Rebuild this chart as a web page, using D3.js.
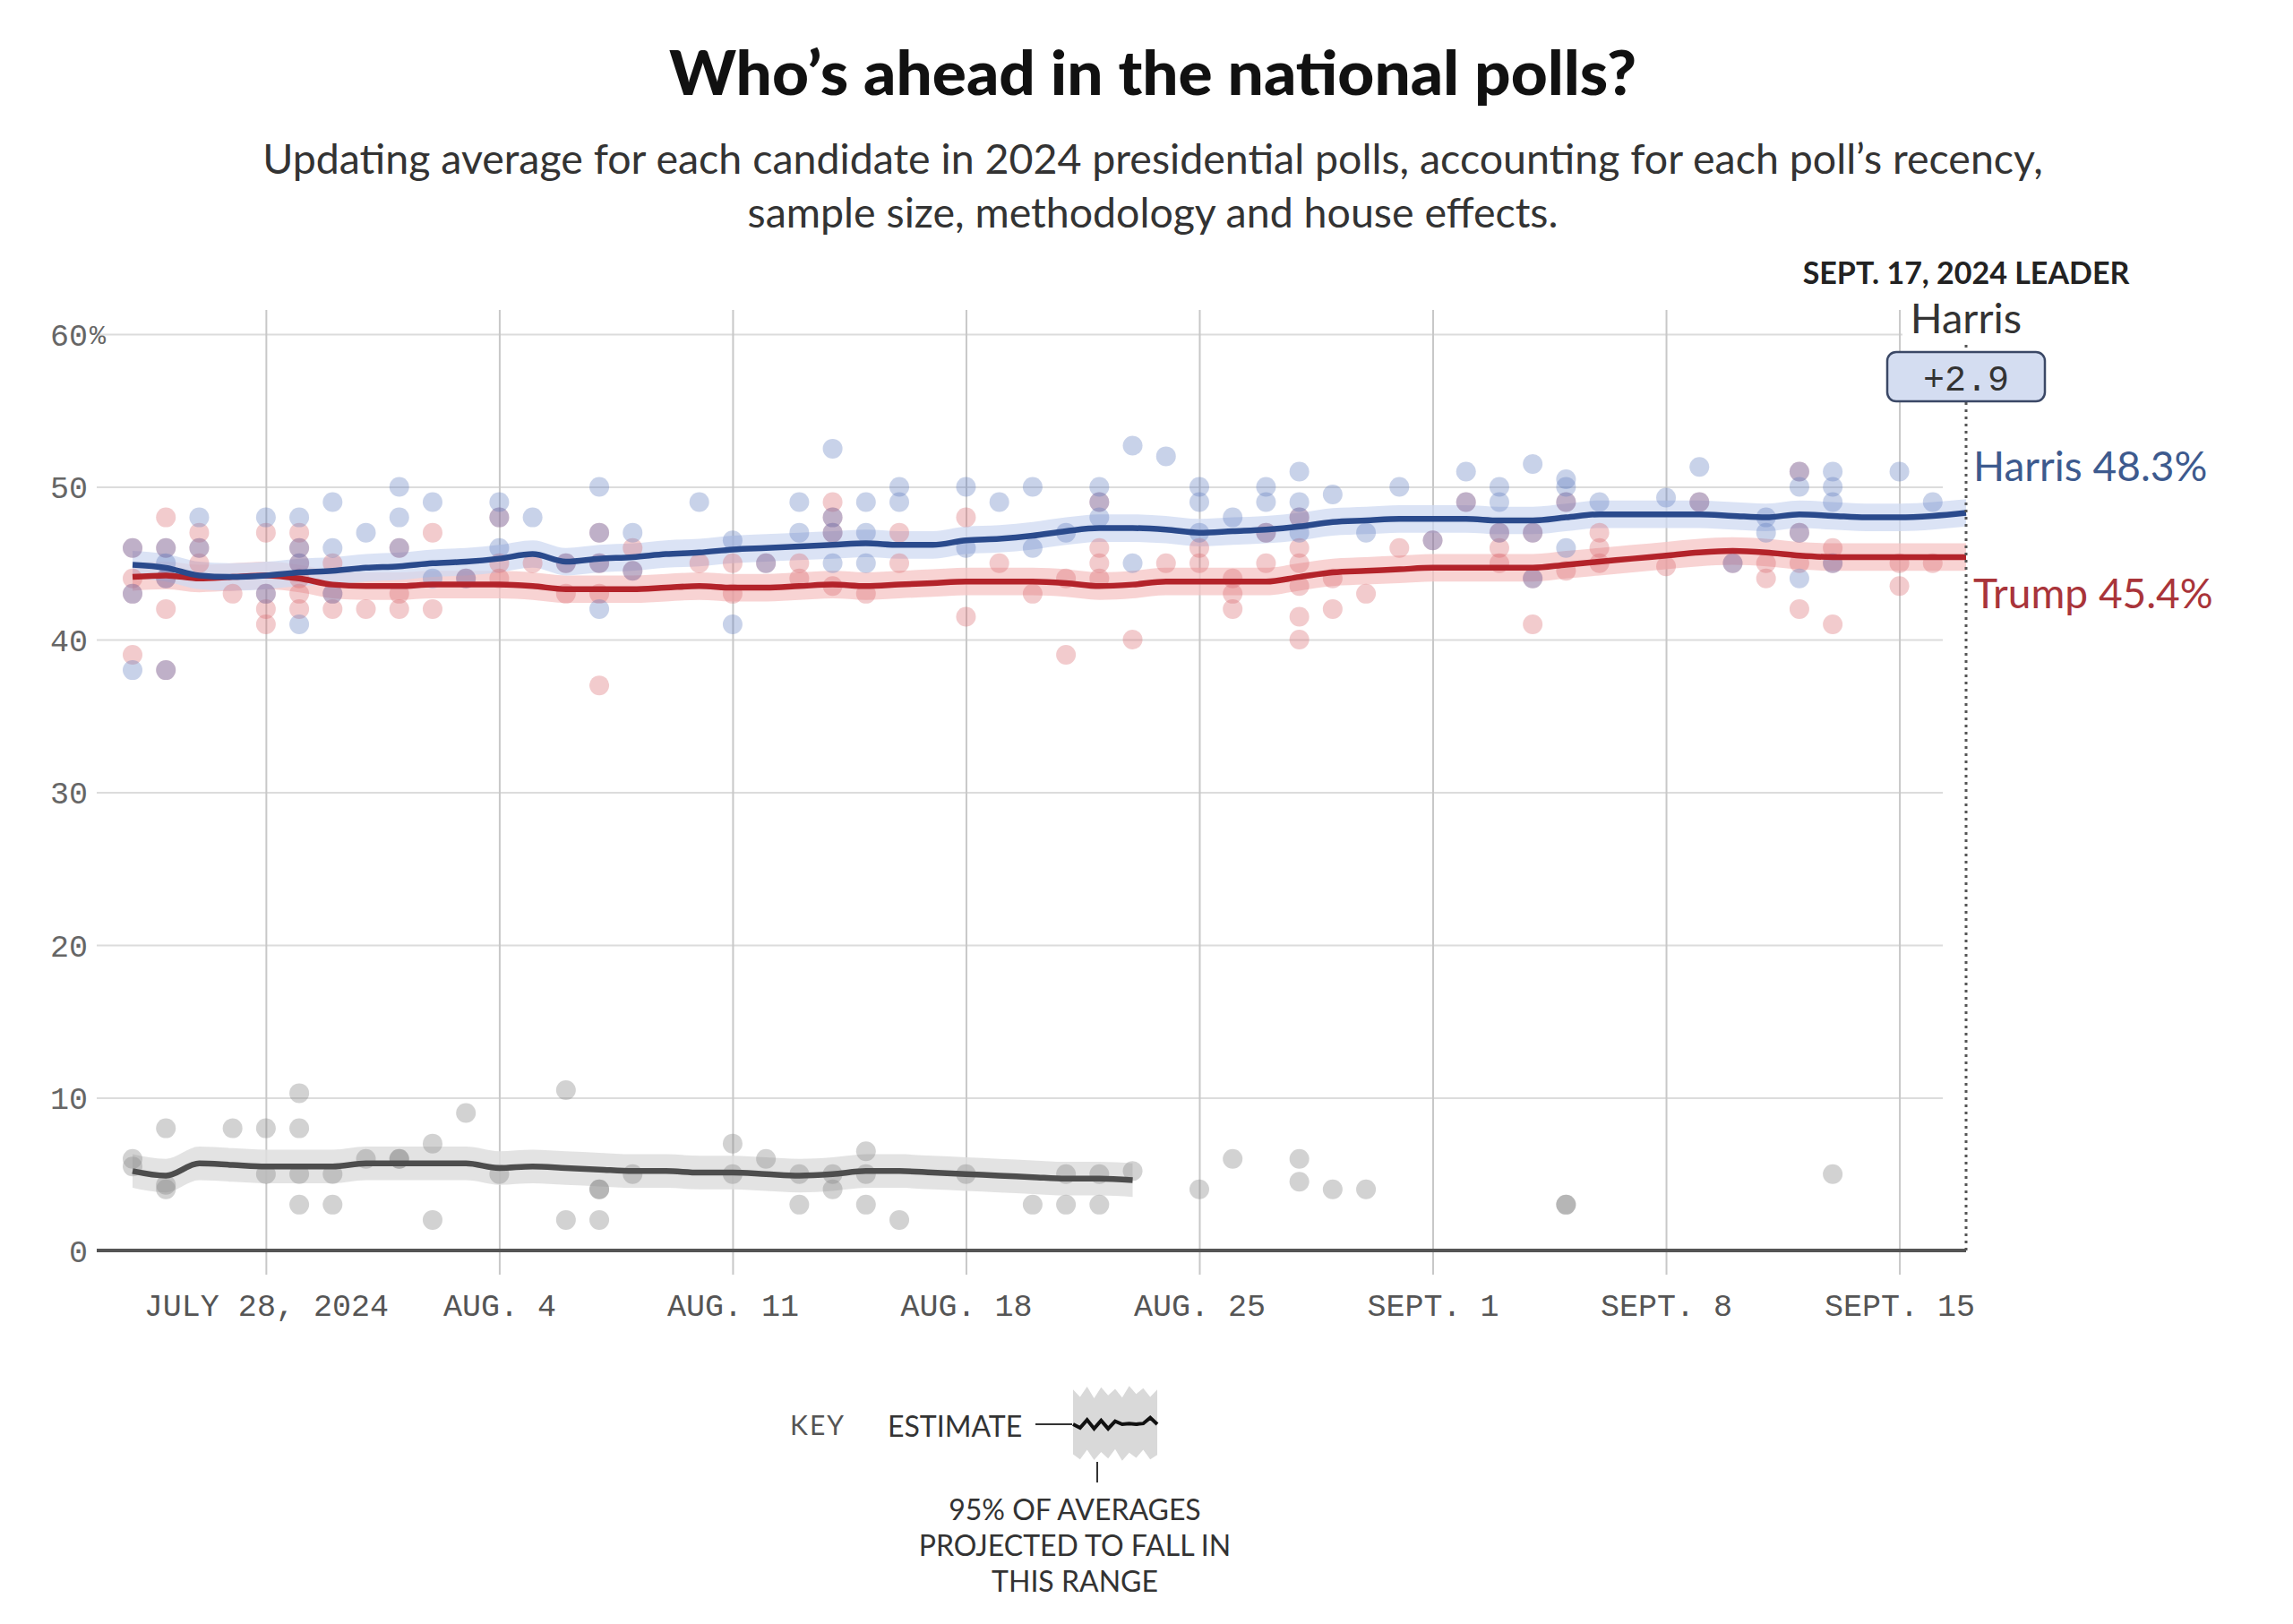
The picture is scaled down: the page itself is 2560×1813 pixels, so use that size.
<!DOCTYPE html>
<html><head><meta charset="utf-8">
<script src="https://cdn.jsdelivr.net/npm/d3@7"></script>
<style>
html,body{margin:0;padding:0;background:#fff;}
svg{display:block;}
</style></head><body>
<svg id="chart" width="2560" height="1813"></svg>
<script>
// ---------------- DATA ----------------
const startDate = "2024-07-24";
const endDate = "2024-09-17";
const kennedyEndDate = "2024-08-23";

// daily polling averages (July 24 .. Sept 17)
const harrisAvg = [44.9,44.7,44.2,44.1,44.2,44.4,44.5,44.7,44.8,45.0,45.1,45.3,45.6,45.1,45.3,45.4,45.6,45.7,45.9,46.0,
  46.1,46.2,46.3,46.2,46.2,46.5,46.6,46.8,47.1,47.3,47.3,47.2,47.0,47.1,47.2,47.4,47.7,47.8,47.9,47.9,
  47.9,47.8,47.8,48.0,48.2,48.2,48.2,48.2,48.1,48.0,48.2,48.1,48.0,48.0,48.1,48.3];
const trumpAvg = [44.1,44.2,44.0,44.1,44.2,44.0,43.6,43.5,43.5,43.6,43.6,43.6,43.5,43.3,43.3,43.3,43.4,43.5,43.4,43.4,
  43.5,43.6,43.5,43.6,43.7,43.8,43.8,43.8,43.7,43.5,43.6,43.8,43.8,43.8,43.8,44.1,44.4,44.5,44.6,44.7,
  44.7,44.7,44.7,44.9,45.1,45.3,45.5,45.7,45.8,45.7,45.5,45.4,45.4,45.4,45.4,45.4];
// July 24 .. Aug 23
const kennedyAvg = [5.2,4.9,5.7,5.6,5.5,5.5,5.5,5.7,5.7,5.7,5.7,5.4,5.5,5.4,5.3,5.2,5.2,5.1,5.1,5.0,
  4.9,5.0,5.2,5.2,5.1,5.0,4.9,4.8,4.7,4.7,4.6];

// half-width of the 95% range band, in points
const harrisRange = 0.9;
const trumpRange = 0.9;
const kennedyRange = 1.1;

// individual polls: [days after July 24, [values]]
const harrisPolls = [
  [0,[46,43,38]],[1,[46,45,44,38]],[2,[48,46]],[4,[48,43]],[5,[48,46,45,41]],[6,[49,46,43]],[7,[47]],
  [8,[50,48,46]],[9,[49,44]],[10,[44]],[11,[49,48,46]],[12,[48]],[13,[45]],[14,[50,47,45,42]],[15,[47,44.5]],
  [17,[49]],[18,[46.5,41]],[19,[45]],[20,[49,47]],[21,[52.5,48,47,45]],[22,[49,47,45]],[23,[50,49]],
  [25,[50,46]],[26,[49]],[27,[50,46]],[28,[47]],[29,[50,49,48]],[30,[52.7,45]],[31,[52]],[32,[50,49,47]],
  [33,[48]],[34,[50,49,47]],[35,[51,49,48,47]],[36,[49.5]],[37,[47]],[38,[50]],[39,[46.5]],[40,[51,49]],
  [41,[50,49,47]],[42,[51.5,47,44]],[43,[50.5,50,49,46]],[44,[49]],[46,[49.3]],[47,[51.3,49]],[48,[45]],
  [49,[48,47]],[50,[51,50,47,44]],[51,[51,50,49,45]],[53,[51]],[54,[49]]
];
const trumpPolls = [
  [0,[46,44,43,39]],[1,[48,46,44,42,38]],[2,[47,46,45]],[3,[43]],[4,[47,43,42,41]],[5,[47,46,45,44,43,42]],
  [6,[45,43,42]],[7,[42]],[8,[46,43,42]],[9,[47,42]],[10,[44]],[11,[48,45,44]],[12,[45]],[13,[45,43]],
  [14,[47,45,43,37]],[15,[46,44.5]],[17,[45]],[18,[45,43]],[19,[45]],[20,[45,44]],[21,[49,48,47,43.5]],
  [22,[43]],[23,[47,45]],[25,[48,41.5]],[26,[45]],[27,[43]],[28,[44,39]],[29,[49,46,45,44]],[30,[40]],
  [31,[45]],[32,[46,45]],[33,[44,43,42]],[34,[47,45]],[35,[48,46,45,43.5,41.5,40]],[36,[44,42]],[37,[43]],
  [38,[46]],[39,[46.5]],[40,[49]],[41,[47,46,45]],[42,[47,44,41]],[43,[49,44.5]],[44,[47,46,45]],
  [46,[44.8]],[47,[49]],[48,[45]],[49,[45,44]],[50,[51,47,45,42]],[51,[46,45,41]],[53,[45,43.5]],[54,[45]]
];
const kennedyPolls = [
  [0,[6,5.5]],[1,[8,4.3,4]],[3,[8]],[4,[8,5]],[5,[10.3,8,5,3]],[6,[5,3]],[7,[6]],[8,[6,6]],[9,[7,2]],
  [10,[9]],[11,[5]],[13,[10.5,2]],[14,[4,4,2]],[15,[5]],[18,[7,5]],[19,[6]],[20,[5,3]],[21,[5,4]],
  [22,[6.5,5,3]],[23,[2]],[25,[5]],[27,[3]],[28,[5,3]],[29,[5,3]],[30,[5.2]],[32,[4]],[33,[6]],
  [35,[6,4.5]],[36,[4]],[37,[4]],[43,[3,3]],[51,[5]]
];

const xTickDates = ["2024-07-28","2024-08-04","2024-08-11","2024-08-18","2024-08-25","2024-09-01","2024-09-08","2024-09-15"];
const xTickLabels = ["JULY 28, 2024","AUG. 4","AUG. 11","AUG. 18","AUG. 25","SEPT. 1","SEPT. 8","SEPT. 15"];
const yTicks = [0,10,20,30,40,50,60];

const titleText = "Who\u2019s ahead in the national polls?";
const subtitleLines = ["Updating average for each candidate in 2024 presidential polls, accounting for each poll\u2019s recency,",
                       "sample size, methodology and house effects."];
const leaderDateLabel = "SEPT. 17, 2024 LEADER";
const leaderName = "Harris";
const keyNoteLines = ["95% OF AVERAGES","PROJECTED TO FALL IN","THIS RANGE"];

// decorative key glyph
const keyLine = [0,-0.5,0.6,-0.6,0.5,-0.6,0.4,0,0.1,0,0.1,0.9,0];
const keyBandTop = [4.6,3.6,5.0,3.4,4.9,3.8,4.7,3.5,5.1,4.0,4.8,3.6,4.6];
const keyBandBottom = [-4.2,-4.9,-3.6,-5.0,-3.9,-4.8,-3.5,-5.1,-4.0,-4.7,-3.6,-4.9,-4.3];

// ---------------- DRAW ----------------
const parse = d3.timeParse("%Y-%m-%d");
const t0 = parse(startDate), t1 = parse(endDate);
const dates = d3.timeDay.range(t0, d3.timeDay.offset(t1, 1));
const kDates = d3.timeDay.range(t0, d3.timeDay.offset(parse(kennedyEndDate), 1));

const svg = d3.select("#chart");
svg.append("rect").attr("width",2560).attr("height",1813).attr("fill","#fff");

const x = d3.scaleTime().domain([t0, t1]).range([148, 2195]);
const y = d3.scaleLinear().domain([0, 60]).range([1396, 373]);
const sans = "Lato, 'Open Sans', Arial, sans-serif";
const mono = "'Liberation Mono', 'DejaVu Sans Mono', monospace";

// title + subtitle
svg.append("text").attr("x",1287).attr("y",106).attr("text-anchor","middle")
  .attr("font-family",sans).attr("font-weight",900).attr("font-size",68).attr("fill","#111")
  .attr("textLength",1080).attr("lengthAdjust","spacingAndGlyphs").text(titleText);
svg.selectAll("text.sub").data(subtitleLines).join("text").attr("class","sub")
  .attr("x",1287).attr("y",(d,i)=>194+i*60).attr("text-anchor","middle")
  .attr("font-family",sans).attr("font-size",46.5).attr("fill","#333").text(d=>d);

// y gridlines
const yAxis = svg.append("g").attr("transform","translate(108,0)")
  .call(d3.axisLeft(y).tickValues(yTicks).tickSize(-(2169-108)).tickFormat(d=>d));
yAxis.select(".domain").remove();
yAxis.selectAll(".tick line").attr("stroke","#dcdcdc").attr("stroke-width",2);
yAxis.selectAll(".tick text").attr("x",-10).attr("font-family",mono).attr("font-size",35)
  .attr("fill","#666").attr("dy","0.35em");
yAxis.selectAll(".tick").filter(d=>d===60).append("text").attr("x",-8).attr("dy","0.35em")
  .attr("font-family",mono).attr("font-size",30).attr("fill","#666").attr("text-anchor","start").text("%");

// x gridlines and labels
const xAxis = svg.append("g").attr("transform","translate(0,1423)")
  .call(d3.axisBottom(x).tickValues(xTickDates.map(parse)).tickSize(-(1423-346)).tickFormat((d,i)=>xTickLabels[i]));
xAxis.select(".domain").remove();
xAxis.selectAll(".tick line").attr("stroke","#c8c8c8").attr("stroke-width",2);
xAxis.selectAll(".tick text").attr("y",46).attr("dy",0).attr("font-family",mono).attr("font-size",35).attr("fill","#555");

// bands
const area = (arr, m, ds) => d3.area().x((d,i)=>x(ds[i])).y0(d=>y(d-m)).y1(d=>y(d+m)).curve(d3.curveMonotoneX)(arr);
svg.append("path").attr("d",area(kennedyAvg,kennedyRange,kDates)).attr("fill","#dedede").attr("opacity",0.85);
svg.append("path").attr("d",area(trumpAvg,trumpRange,dates)).attr("fill","#f5c4c4").attr("opacity",0.75);
svg.append("path").attr("d",area(harrisAvg,harrisRange,dates)).attr("fill","#cfdaf2").attr("opacity",0.75);

// dots
const flat = polls => polls.flatMap(([d,vals]) => vals.map(v => ({date:d3.timeDay.offset(t0,d), v})));
function dots(polls, color, op){
  svg.append("g").selectAll("circle").data(flat(polls)).join("circle")
    .attr("cx",d=>x(d.date)).attr("cy",d=>y(d.v)).attr("r",11)
    .attr("fill",color).attr("fill-opacity",op);
}
dots(kennedyPolls,"#8a8a8a",0.38);
dots(trumpPolls,"#d9666b",0.34);
dots(harrisPolls,"#5f7cbf",0.34);

// lines
const line = ds => d3.line().x((d,i)=>x(ds[i])).y(d=>y(d)).curve(d3.curveMonotoneX);
svg.append("path").attr("d",line(kDates)(kennedyAvg)).attr("fill","none").attr("stroke","#4d4d4d").attr("stroke-width",6.5);
svg.append("path").attr("d",line(dates)(trumpAvg)).attr("fill","none").attr("stroke","#b3232a").attr("stroke-width",6.5);
svg.append("path").attr("d",line(dates)(harrisAvg)).attr("fill","none").attr("stroke","#2a4a8c").attr("stroke-width",6.5);

// baseline axis
svg.append("line").attr("x1",108).attr("x2",x(t1)).attr("y1",y(0)).attr("y2",y(0))
  .attr("stroke","#555").attr("stroke-width",4);

// leader annotation
const xe = x(t1);
svg.append("line").attr("x1",xe).attr("x2",xe).attr("y1",385).attr("y2",y(0))
  .attr("stroke","#555").attr("stroke-width",3).attr("stroke-dasharray","3,5");
svg.append("rect").attr("x",2124).attr("y",334).attr("width",142).attr("height",48).attr("fill","#fff");
svg.append("text").attr("x",xe).attr("y",317).attr("text-anchor","middle").attr("font-family",sans)
  .attr("font-weight",700).attr("font-size",34).attr("fill","#222").text(leaderDateLabel);
svg.append("text").attr("x",xe).attr("y",372).attr("text-anchor","middle").attr("font-family",sans)
  .attr("font-size",47).attr("fill","#333").text(leaderName);
const lead = harrisAvg[harrisAvg.length-1] - trumpAvg[trumpAvg.length-1];
svg.append("rect").attr("x",xe-88).attr("y",393).attr("width",176).attr("height",55).attr("rx",10)
  .attr("fill","#d4ddf1").attr("stroke","#3b4866").attr("stroke-width",2.5);
svg.append("text").attr("x",xe).attr("y",436).attr("text-anchor","middle").attr("font-family",mono)
  .attr("font-size",40).attr("fill","#333").text("+" + d3.format(".1f")(lead));

svg.append("text").attr("x",2203).attr("y",537).attr("font-family",sans).attr("font-size",46)
  .attr("fill","#3d5a8e").text("Harris " + d3.format(".1f")(harrisAvg[harrisAvg.length-1]) + "%");
svg.append("text").attr("x",2203).attr("y",679).attr("font-family",sans).attr("font-size",46)
  .attr("fill","#a9343a").text("Trump " + d3.format(".1f")(trumpAvg[trumpAvg.length-1]) + "%");

// key
svg.append("text").attr("x",882).attr("y",1602).attr("font-family",sans).attr("font-size",30)
  .attr("letter-spacing",2).attr("fill","#555").text("KEY");
svg.append("text").attr("x",991).attr("y",1604).attr("font-family",sans).attr("font-size",32)
  .attr("fill","#333").text("ESTIMATE");
svg.append("line").attr("x1",1156).attr("x2",1197).attr("y1",1590).attr("y2",1590).attr("stroke","#333").attr("stroke-width",2);
const kx = d3.scaleLinear().domain([0,keyLine.length-1]).range([1198,1292]);
const ky = d3.scaleLinear().domain([-5,5]).range([1630,1548]);
svg.append("path").attr("d",d3.area().x((d,i)=>kx(i)).y0((d,i)=>ky(keyBandBottom[i])).y1(d=>ky(d))(keyBandTop))
  .attr("fill","#d9d9d9");
svg.append("path").attr("d",d3.line().x((d,i)=>kx(i)).y(d=>ky(d)+1)(keyLine))
  .attr("fill","none").attr("stroke","#111").attr("stroke-width",4);
svg.append("line").attr("x1",1225).attr("x2",1225).attr("y1",1632).attr("y2",1655).attr("stroke","#333").attr("stroke-width",2);
svg.selectAll("text.keynote").data(keyNoteLines).join("text").attr("class","keynote")
  .attr("x",1200).attr("y",(d,i)=>1697+i*40).attr("text-anchor","middle")
  .attr("font-family",sans).attr("font-size",32).attr("fill","#333").text(d=>d);
</script>
</body></html>
